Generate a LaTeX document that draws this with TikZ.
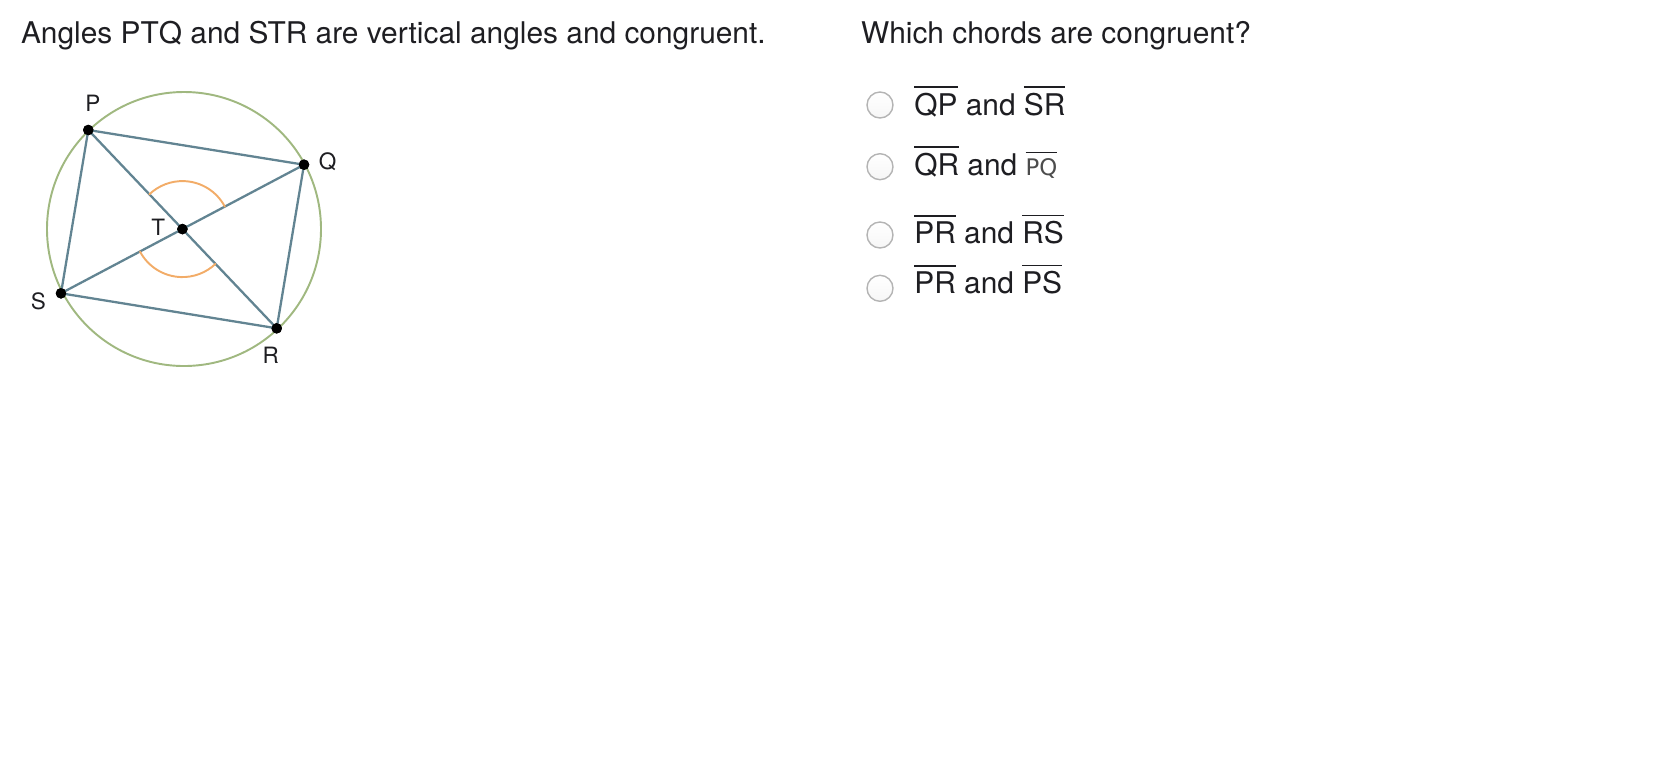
\documentclass[tikz,border=0pt]{standalone}
\usepackage{fontspec}
\setmainfont{TeX Gyre Heros}
\newfontfamily\choicefont{DejaVu Sans}
\usepackage{xcolor}
\definecolor{circlegreen}{RGB}{160,184,128}
\definecolor{chordblue}{RGB}{98,132,146}
\definecolor{arcorange}{RGB}{242,172,104}
\definecolor{inkgray}{RGB}{30,30,34}
\definecolor{radiogray}{RGB}{180,180,180}
\newcommand{\chord}[1]{\vbox{\hrule height 1pt\kern 2.6pt\hbox{#1}}}

\begin{document}
\begin{tikzpicture}[line cap=round,line join=round,x=1.0cm,y=1.0cm,
  heading/.style={anchor=base west,inner sep=0pt,text=inkgray,font=\fontsize{17}{20}\selectfont},
  pointlabel/.style={inner sep=0pt,text=inkgray,font=\fontsize{12.8}{14}\selectfont},
  dot/.style={circle,fill=black,inner sep=0pt,minimum size=0.21cm},
  chordline/.style={draw=chordblue,line width=1.3pt},
  anglearc/.style={draw=arcorange,line width=1.1pt},
  radio/.style={circle,draw=radiogray,line width=0.8pt,top color=white,bottom color=gray!7,inner sep=0pt,minimum size=0.52cm},
  choice/.style={anchor=base west,inner sep=0pt,text=inkgray,font=\fontsize{17}{20}\selectfont}]

\useasboundingbox (0,0) rectangle (33.6,-15.2);

% question texts
\node [heading] (given) at (0.414,-0.866) {Angles PTQ and STR are vertical angles and congruent.};
\node [heading] (ask) at (17.214,-0.866) {Which chords are congruent?};

% circle and chords
\draw [draw=circlegreen,line width=1.1pt] (3.68,-4.58) circle (2.74cm);

\node [dot] (P) at (1.766,-2.6) {};
\node [dot] (Q) at (6.08,-3.294) {};
\node [dot] (S) at (1.22,-5.866) {};
\node [dot] (R) at (5.534,-6.566) {};
\node [dot] (T) at (intersection of P--R and S--Q) {};

\draw [chordline] (P.center) -- (Q.center) -- (R.center) -- (S.center) -- cycle;
\draw [chordline] (P.center) -- (R.center);
\draw [chordline] (S.center) -- (Q.center);
\node [dot] at (P) {};
\node [dot] at (Q) {};
\node [dot] at (S) {};
\node [dot] at (R) {};
\node [dot] at (T) {};

\draw [anglearc] (T) ++(27.9:0.96) arc[start angle=27.9,end angle=133.6,radius=0.96];
\draw [anglearc] (T) ++(207.9:0.96) arc[start angle=207.9,end angle=313.5,radius=0.96];

\node [pointlabel] (lP) at (1.86,-2.06) {P};
\node [pointlabel] (lQ) at (6.55,-3.23) {Q};
\node [pointlabel] (lT) at (3.167,-4.547) {T};
\node [pointlabel] (lS) at (0.767,-6.033) {S};
\node [pointlabel] (lR) at (5.413,-7.1) {R};

% answer choices
\node [radio] (r1) at (17.6,-2.1) {};
\node [radio] (r2) at (17.6,-3.334) {};
\node [radio] (r3) at (17.6,-4.7) {};
\node [radio] (r4) at (17.6,-5.766) {};

\node [choice] (c1) at (18.28,-2.3) {\chord{QP} and \chord{SR}};
\node [choice] (c2) at (18.28,-3.5) {\chord{QR} and \chord{\color{black!70}\choicefont\fontsize{13}{15}\selectfont PQ}};
\node [choice] (c3) at (18.28,-4.866) {\chord{PR} and \chord{RS}};
\node [choice] (c4) at (18.28,-5.866) {\chord{PR} and \chord{PS}};
\end{tikzpicture}
\end{document}
